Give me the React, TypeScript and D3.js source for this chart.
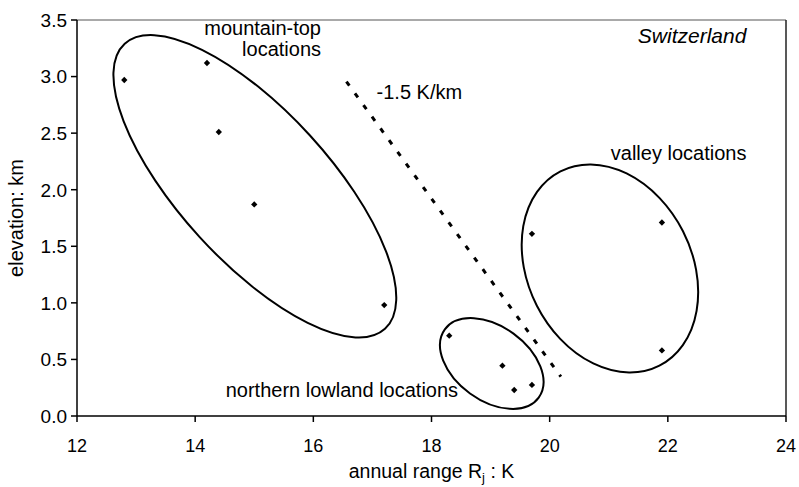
import React from "react";
import * as d3 from "d3";

// Annual temperature range vs. elevation for Swiss stations
const rangeK = [12.8, 14.2, 14.4, 15.0, 17.2, 18.3, 19.2, 19.4, 19.7, 19.7, 21.9, 21.9];
const elevationKm = [2.97, 3.12, 2.51, 1.87, 0.98, 0.71, 0.445, 0.23, 0.275, 1.61, 1.71, 0.58];

const xTicks = [12, 14, 16, 18, 20, 22, 24];
const yTicks = [0, 0.5, 1, 1.5, 2, 2.5, 3, 3.5];

// Group outlines: centre in data units
const groupNames = ["mountain-top", "northern lowland", "valley"];
const groupCentreX = [15.01, 19.02, 21.02];
const groupCentreY = [2.03, 0.464, 1.304];

// Lapse-rate reference line end points
const lapseX = [16.56, 20.19];
const lapseY = [2.956, 0.347];

const W = 799;
const H = 487;
const margin = { left: 77, right: 13, top: 20, bottom: 71 };

export default function App() {
  const x = d3.scaleLinear().domain([12, 24]).range([margin.left, W - margin.right]);
  const y = d3.scaleLinear().domain([0, 3.5]).range([H - margin.bottom, margin.top]);

  const fmtY = d3.format(".1f");
  const font = "'Liberation Sans', Arial, sans-serif";

  // outline shapes (semi-axes in px, rotation in degrees)
  const outlineShape = [
    { rx: 193, ry: 75, rot: 47.6 },
    { rx: 58, ry: 37, rot: 36 },
    { rx: 109, ry: 82, rot: 63 },
  ];

  // small filled rhombus marker
  const marker = d3.symbol().type(d3.symbolSquare).size(20)();

  const [x0, y0] = [x(12), y(0)];
  const [x1, y1] = [x(24), y(3.5)];

  return (
    <svg
      width={W}
      height={H}
      style={{ position: "absolute", left: 0, top: 0, background: "#fff" }}
      fontFamily={font}
    >
      <rect x={0} y={0} width={W} height={H} fill="#fff" />

      {/* plot frame */}
      <line x1={x0} y1={y1} x2={x1} y2={y1} stroke="#555" strokeWidth={1} />
      <line x1={x1} y1={y1} x2={x1} y2={y0} stroke="#222" strokeWidth={1.5} />
      <line x1={x0} y1={y0} x2={x1} y2={y0} stroke="#000" strokeWidth={1.5} />
      <line x1={x0} y1={y0} x2={x0} y2={y1} stroke="#000" strokeWidth={1.5} />

      {/* y ticks */}
      {yTicks.map((t) => (
        <g key={"y" + t}>
          <line x1={x0 - 6} x2={x0} y1={y(t)} y2={y(t)} stroke="#000" strokeWidth={1.5} />
          <text x={x0 - 10} y={y(t)} dy="0.36em" textAnchor="end" fontSize={19} fill="#000">
            {fmtY(t)}
          </text>
        </g>
      ))}

      {/* x ticks */}
      {xTicks.map((t) => (
        <g key={"x" + t}>
          <line x1={x(t)} x2={x(t)} y1={y0} y2={y0 + 6} stroke="#000" strokeWidth={1.5} />
          <text x={x(t)} y={y0 + 36} textAnchor="middle" fontSize={18} fill="#000">
            {t}
          </text>
        </g>
      ))}

      {/* axis titles */}
      <text x={(x0 + x1) / 2} y={H - 9} textAnchor="middle" fontSize={19.5} fill="#000">
        annual range R
        <tspan fontSize={13} dy={4}>j</tspan>
        <tspan dy={-4}> : K</tspan>
      </text>
      <text
        transform={`translate(23, ${(y0 + y1) / 2}) rotate(-90)`}
        textAnchor="middle"
        fontSize={20}
        fill="#000"
      >
        elevation: km
      </text>

      {/* group outlines */}
      {groupNames.map((g, i) => (
        <ellipse
          key={g}
          cx={0}
          cy={0}
          rx={outlineShape[i].rx}
          ry={outlineShape[i].ry}
          transform={`translate(${x(groupCentreX[i])}, ${y(groupCentreY[i])}) rotate(${outlineShape[i].rot})`}
          fill="none"
          stroke="#000"
          strokeWidth={2}
        />
      ))}

      {/* lapse-rate line */}
      <line
        x1={x(lapseX[0])}
        y1={y(lapseY[0])}
        x2={x(lapseX[1])}
        y2={y(lapseY[1])}
        stroke="#000"
        strokeWidth={3}
        strokeDasharray="5 9.5"
      />

      {/* stations */}
      {rangeK.map((r, i) => (
        <path
          key={i}
          d={marker}
          transform={`translate(${x(r)}, ${y(elevationKm[i])}) rotate(45)`}
          fill="#000"
        />
      ))}

      {/* annotations */}
      <text textAnchor="end" fontSize={20} fill="#000">
        <tspan x={x(16.13)} y={y(3.37)}>mountain-top</tspan>
        <tspan x={x(16.13)} dy={21.5}>locations</tspan>
      </text>
      <text x={x(17.07)} y={y(2.8)} fontSize={20} fill="#000">
        -1.5 K/km
      </text>
      <text x={x(23.33)} y={y(3.3)} textAnchor="end" fontSize={21} fontStyle="italic" fill="#000">
        Switzerland
      </text>
      <text x={x(23.33)} y={y(2.26)} textAnchor="end" fontSize={20} fill="#000">
        valley locations
      </text>
      <text x={x(18.45)} y={y(0.165)} textAnchor="end" fontSize={20} fill="#000">
        northern lowland locations
      </text>
    </svg>
  );
}
